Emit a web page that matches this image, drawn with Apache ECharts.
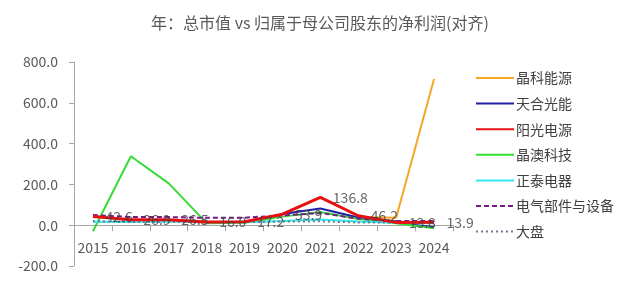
<!DOCTYPE html>
<html><head><meta charset="utf-8">
<script src="https://cdn.jsdelivr.net/npm/echarts@6/dist/echarts.min.js"></script>
<style>html,body{margin:0;padding:0;background:#fff}#c{width:640px;height:284px}</style>
</head><body><div id="c"></div>
<script>
var years = ['2015','2016','2017','2018','2019','2020','2021','2022','2023','2024'];
var jinko = [null,null,null,null,null,null,null,40,37,717];
var trina = [null,null,null,null,null,55,82,38,12,-10];
var sungrow = [42.6,26.9,26.5,16.0,17.2,53.9,136.8,46.2,13.8,13.9];
var jasolar = [-30,338,205,10,12,42,65,30,9,-15];
var chint = [17,16,18,14,15,20,28,18,12,10];
var industry = [50,40,40,36,37,48,60,32,20,21];
var market = [20,16,18,13,15,18,19,13,13,14];
var names = ['晶科能源','天合光能','阳光电源','晶澳科技','正泰电器','电气部件与设备','大盘'];
var yTicks = {min:-200, max:800, interval:200};

var font = '"Noto Sans CJK SC", "Microsoft YaHei", sans-serif';
var chart = echarts.init(document.getElementById('c'));
var gridTop = 62, gridBottom = 18, gridH = 284 - gridTop - gridBottom;
var zeroOffset = -gridH * (0 - yTicks.min) / (yTicks.max - yTicks.min);
function s(name, data, color, width, type, extra){
  var o = {name:name, type:'line', data:data, symbol:'none', showSymbol:false, connectNulls:false,
    lineStyle:{color:color, width:width, type:type||'solid'}, itemStyle:{color:color}};
  for (var k in extra) o[k]=extra[k];
  return o;
}
chart.setOption({
  animation:false,
  textStyle:{fontFamily:font},
  title:{text:'年：总市值 vs 归属于母公司股东的净利润(对齐)', left:'center', top:10,
    textStyle:{fontSize:16, fontWeight:'normal', color:'#595959', fontFamily:font}},
  grid:{left:74, right:187, top:gridTop, bottom:gridBottom, containLabel:false, outerBoundsMode:'none'},
  legend:{orient:'vertical', left:470, top:66, itemWidth:38, itemHeight:14, itemGap:11.6,
    data:names, itemStyle:{opacity:0}, lineStyle:{width:2},
    textStyle:{fontSize:14, color:'#404040', fontFamily:font, padding:[0,0,0,-3]}},
  xAxis:{type:'category', data:years, boundaryGap:true, position:'bottom', offset:zeroOffset,
    axisLine:{onZero:false, lineStyle:{color:'#a6a6a6'}},
    axisTick:{show:true, length:6, lineStyle:{color:'#a6a6a6'}},
    axisLabel:{fontSize:14, color:'#595959', margin:15, interval:0, fontFamily:font}},
  yAxis:{type:'value', min:yTicks.min, max:yTicks.max, interval:yTicks.interval,
    splitLine:{show:false},
    axisLine:{show:true, lineStyle:{color:'#a6a6a6'}},
    axisTick:{show:true, length:5, lineStyle:{color:'#a6a6a6'}},
    axisLabel:{fontSize:14, color:'#595959', margin:16, fontFamily:font,
      formatter:function(v){return v.toFixed(1);}}},
  series:[
    s('晶科能源', jinko, '#f5a623', 2),
    s('天合光能', trina, '#1f1fa8', 2),
    s('阳光电源', sungrow, '#e81010', 3, 'solid', {z:5}),
    s('晶澳科技', jasolar, '#33dd33', 2),
    s('正泰电器', chint, '#33e5ee', 2),
    s('电气部件与设备', industry, '#7a1a8a', 2, [5,3]),
    s('大盘', market, '#6b7b8b', 2, [2,3]),
    {name:'labels', type:'scatter', data:sungrow, symbolSize:1, itemStyle:{color:'rgba(0,0,0,0)'}, z:6,
      labelLayout:{hideOverlap:false},
      label:{show:true, position:'right', distance:12, fontSize:14, color:'#404040', fontFamily:font,
        formatter:function(p){return p.value.toFixed(1);}}}
  ]
});
</script></body></html>
